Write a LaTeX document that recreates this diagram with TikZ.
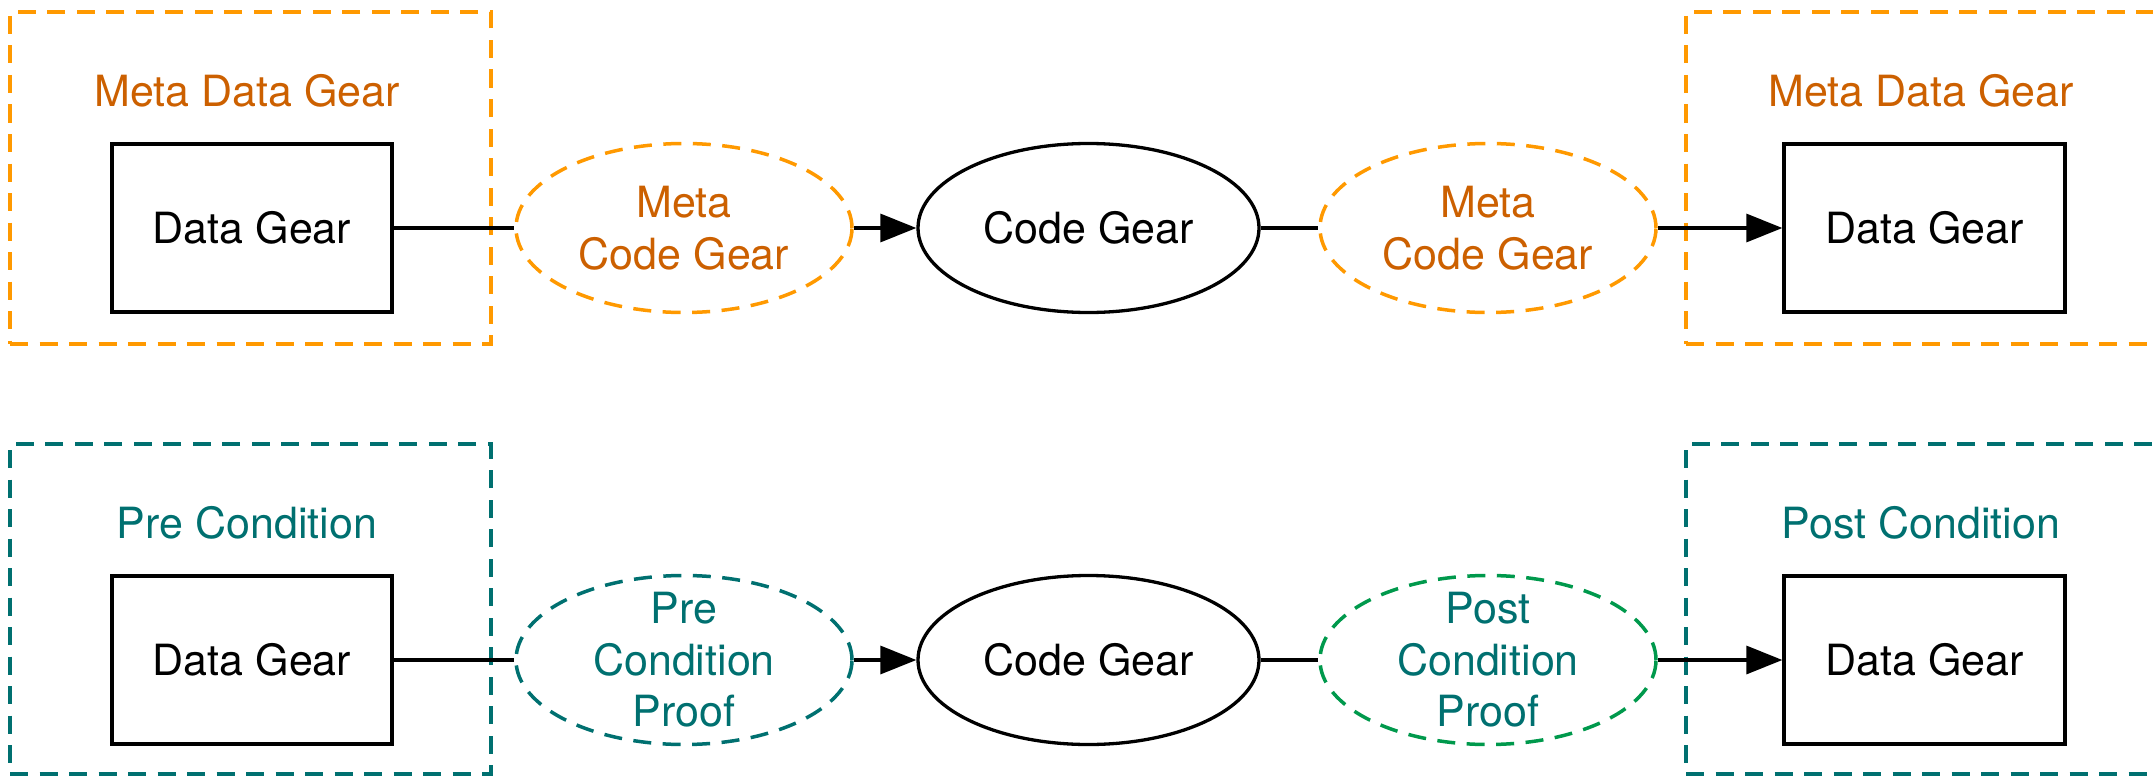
\documentclass[tikz,border=0pt]{standalone}
\usepackage{fontspec}
\setmainfont{TeX Gyre Heros}
\usetikzlibrary{shapes.geometric,arrows.meta}

\definecolor{frameorange}{RGB}{255,153,0}
\definecolor{metatext}{RGB}{204,96,0}
\definecolor{condteal}{RGB}{0,112,112}
\definecolor{proofgreen}{RGB}{0,153,76}

\tikzset{
  gearfont/.style={font=\fontsize{43}{51.6}\selectfont},
  framebox/.style={draw=#1, line width=3.5pt, dash pattern=on 18pt off 11.5pt,
    minimum width=481pt, inner sep=0pt},
  framelabel/.style={gearfont, text=#1, inner sep=0pt},
  databox/.style={draw, line width=3.3pt, minimum width=280pt, minimum height=168pt,
    inner sep=0pt, gearfont},
  codegear/.style={ellipse, draw, line width=3.3pt, minimum width=341pt,
    minimum height=169pt, inner sep=0pt, gearfont},
  proofgear/.style={ellipse, draw=#1, line width=3.5pt,
    dash pattern=on 18pt off 11.5pt, minimum width=336pt, minimum height=169pt,
    inner sep=0pt},
  prooftext/.style={text=#1, inner sep=0pt, align=center, gearfont},
  link/.style={line width=3.3pt},
  flow/.style={link, -{Triangle[length=36pt,width=28pt]}}
}

\begin{document}
\begin{tikzpicture}[x=1pt,y=-1pt]
\useasboundingbox (0,0) rectangle (2153,776);
\clip (0,0) rectangle (2153,776);

% ---- upper row: meta level ----
\node[framebox=frameorange, minimum height=332pt] (metaframeL) at (250.5,178) {};
\node[framebox=frameorange, minimum height=332pt] (metaframeR) at (1926.5,178) {};
\node[framelabel=metatext] (metalabelL) at (247,91) {Meta Data Gear};
\node[framelabel=metatext] (metalabelR) at (1921,91) {Meta Data Gear};

\node[databox] (dataTL) at (252,228) {Data Gear};
\node[proofgear=frameorange] (metacodeL) at (684,228) {};
\node[prooftext=metatext] (metacodeLtext) at (metacodeL.center) {Meta\\Code Gear};
\node[codegear] (codeT) at (1088.5,228) {Code Gear};
\node[proofgear=frameorange] (metacodeR) at (1488,228) {};
\node[prooftext=metatext] (metacodeRtext) at (metacodeR.center) {Meta\\Code Gear};
\node[databox, minimum width=281pt] (dataTR) at (1924.5,228) {Data Gear};

\draw[link] (dataTL.east) -- (metacodeL.west);
\draw[flow] (metacodeL.east) -- (codeT.west);
\draw[link] (codeT.east) -- (metacodeR.west);
\draw[flow] (metacodeR.east) -- (dataTR.west);

% ---- lower row: conditions and proofs ----
\node[framebox=condteal, minimum height=330pt] (preframe) at (250.5,609) {};
\node[framebox=condteal, minimum height=330pt] (postframe) at (1926.5,609) {};
\node[framelabel=condteal] (prelabel) at (247,523) {Pre Condition};
\node[framelabel=condteal] (postlabel) at (1921,523) {Post Condition};

\node[databox] (dataBL) at (252,660) {Data Gear};
\node[proofgear=condteal] (preproof) at (684,660) {};
\node[prooftext=condteal] (preprooftext) at (preproof.center) {Pre\\Condition\\Proof};
\node[codegear] (codeB) at (1088.5,660) {Code Gear};
\node[proofgear=proofgreen] (postproof) at (1488,660) {};
\node[prooftext=condteal] (postprooftext) at (postproof.center) {Post\\Condition\\Proof};
\node[databox, minimum width=281pt] (dataBR) at (1924.5,660) {Data Gear};

\draw[link] (dataBL.east) -- (preproof.west);
\draw[flow] (preproof.east) -- (codeB.west);
\draw[link] (codeB.east) -- (postproof.west);
\draw[flow] (postproof.east) -- (dataBR.west);
\end{tikzpicture}
\end{document}
